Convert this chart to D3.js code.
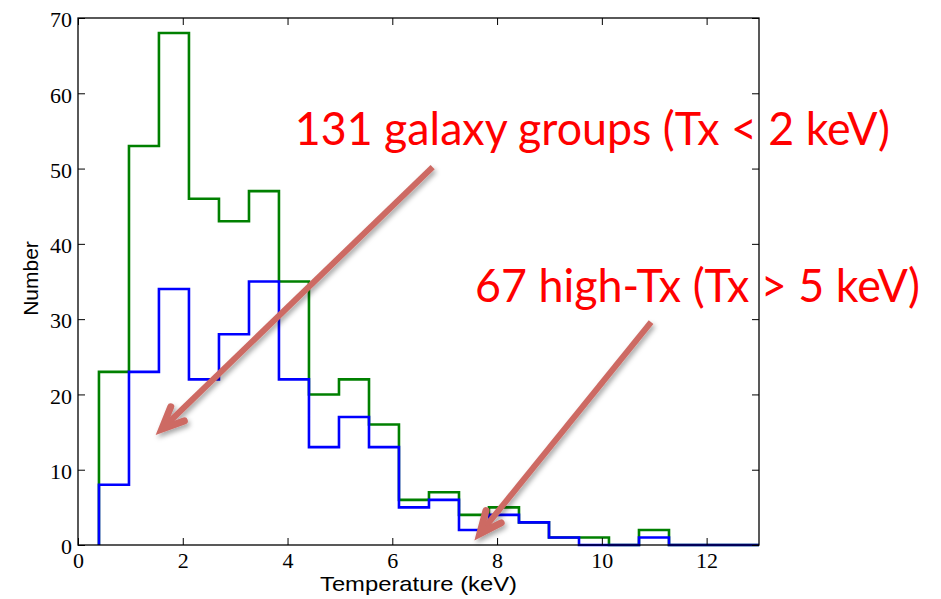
<!DOCTYPE html>
<html>
<head>
<meta charset="utf-8">
<script src="https://cdn.jsdelivr.net/npm/d3@7"></script>
<style>
  html, body { margin: 0; padding: 0; background: #fff; }
  svg { display: block; }
</style>
</head>
<body>
<div id="chart"></div>
<script>
// histogram bin edges (keV), 22 bins from 0.4 to 13.0
const binEdges = [0.4, 0.973, 1.545, 2.118, 2.691, 3.264, 3.836, 4.409, 4.982, 5.555, 6.127,
  6.7, 7.273, 7.845, 8.418, 8.991, 9.564, 10.136, 10.709, 11.282, 11.855, 12.427, 13.0];

// counts per bin
const allCounts = [23, 53, 68, 46, 43, 47, 35, 20, 22, 16, 6, 7, 4, 5, 3, 1, 1, 0, 2, 0, 0, 0];
const subCounts = [8, 23, 34, 22, 28, 35, 22, 13, 17, 13, 5, 6, 2, 4, 3, 1, 0, 0, 1, 0, 0, 0];

const xTicks = [0, 2, 4, 6, 8, 10, 12];
const yTicks = [0, 10, 20, 30, 40, 50, 60, 70];

// annotations in data units: text anchor, arrow tail, arrow tip
const notes = [
  { text: "131 galaxy groups (Tx < 2 keV)", x: 4.14, y: 53.1, width: 595, tail: [6.77, 50.2], tip: [1.60, 15.4] },
  { text: "67 high-Tx (Tx > 5 keV)", x: 7.58, y: 32.3, width: 445, tail: [10.94, 29.6], tip: [7.67, 1.5] },
];

const width = 941, height = 599;
const margin = { top: 18, right: 182, bottom: 54, left: 78 };
const serif = '"Liberation Serif", "DejaVu Serif", serif';
const sans = '"Liberation Sans", Arial, sans-serif';

const svg = d3.select("#chart").append("svg")
  .attr("width", width)
  .attr("height", height);

const x = d3.scaleLinear().domain([0, 13]).range([margin.left, width - margin.right]);
const y = d3.scaleLinear().domain([0, 70]).range([height - margin.bottom, margin.top]);

const defs = svg.append("defs");
const shadow = defs.append("filter").attr("id", "shadow")
  .attr("x", "-20%").attr("y", "-20%").attr("width", "140%").attr("height", "140%");
shadow.append("feDropShadow")
  .attr("dx", 2).attr("dy", 3).attr("stdDeviation", 2.5)
  .attr("flood-color", "#000").attr("flood-opacity", 0.35);

function stepPoints(counts) {
  const pts = [[binEdges[0], 0]];
  counts.forEach((c, i) => {
    pts.push([binEdges[i], c]);
    pts.push([binEdges[i + 1], c]);
  });
  pts.push([binEdges[binEdges.length - 1], 0]);
  return pts;
}

const line = d3.line().x((d) => x(d[0])).y((d) => y(d[1]));

svg.append("path")
  .attr("d", line(stepPoints(allCounts)))
  .attr("fill", "none")
  .attr("stroke", "#008000")
  .attr("stroke-width", 2.6);

svg.append("path")
  .attr("d", line(stepPoints(subCounts)))
  .attr("fill", "none")
  .attr("stroke", "#0000ff")
  .attr("stroke-width", 2.6);

// frame and inward ticks on all four sides
const x0 = margin.left, x1 = width - margin.right;
const y0 = height - margin.bottom, y1 = margin.top;
const tickLen = 7;

function styleLabels(g) {
  g.attr("font-family", serif).attr("font-size", 22);
  g.selectAll("text").attr("fill", "#000");
}

svg.append("g")
  .attr("transform", `translate(0,${y0})`)
  .call(d3.axisBottom(x).tickValues(xTicks).tickSize(-tickLen).tickPadding(7).tickFormat(d3.format("d")))
  .call((g) => g.select(".domain").remove())
  .call(styleLabels);

svg.append("g")
  .attr("transform", `translate(0,${y1})`)
  .call(d3.axisTop(x).tickValues(xTicks).tickSize(-tickLen).tickFormat(""))
  .call((g) => g.select(".domain").remove());

svg.append("g")
  .attr("transform", `translate(${x0},0)`)
  .call(d3.axisLeft(y).tickValues(yTicks).tickSize(-tickLen).tickPadding(6).tickFormat(d3.format("d")))
  .call((g) => g.select(".domain").remove())
  .call(styleLabels)
  .call((g) => g.selectAll("text").attr("dy", "0.4em"));

svg.append("g")
  .attr("transform", `translate(${x1},0)`)
  .call(d3.axisRight(y).tickValues(yTicks).tickSize(-tickLen).tickFormat(""))
  .call((g) => g.select(".domain").remove());

svg.selectAll(".tick line").attr("stroke", "#000").attr("stroke-width", 1);

svg.append("rect")
  .attr("x", x0).attr("y", y1)
  .attr("width", x1 - x0).attr("height", y0 - y1)
  .attr("fill", "none")
  .attr("stroke", "#000")
  .attr("stroke-width", 1.3);

svg.append("text")
  .attr("font-family", sans)
  .attr("font-size", 21)
  .attr("x", (x0 + x1) / 2)
  .attr("y", 591)
  .attr("text-anchor", "middle")
  .attr("textLength", 197)
  .attr("lengthAdjust", "spacingAndGlyphs")
  .text("Temperature (keV)");

svg.append("text")
  .attr("font-family", sans)
  .attr("font-size", 21)
  .attr("transform", `translate(38,${(y0 + y1) / 2 - 3}) rotate(-90)`)
  .attr("text-anchor", "middle")
  .text("Number");

// annotation arrows
const arrowColor = "#cd6a64";
notes.forEach((n) => {
  const tx = x(n.tail[0]), ty = y(n.tail[1]);
  const hx = x(n.tip[0]), hy = y(n.tip[1]);
  const ang = Math.atan2(ty - hy, tx - hx);
  const barb = 24, spread = 0.42;
  const b1 = [hx + barb * Math.cos(ang + spread), hy + barb * Math.sin(ang + spread)];
  const b2 = [hx + barb * Math.cos(ang - spread), hy + barb * Math.sin(ang - spread)];
  const g = svg.append("g").attr("filter", "url(#shadow)");
  g.append("path")
    .attr("d", `M${tx},${ty}L${hx + 3 * Math.cos(ang)},${hy + 3 * Math.sin(ang)}`)
    .attr("stroke", arrowColor)
    .attr("stroke-width", 6)
    .attr("fill", "none");
  g.append("path")
    .attr("d", `M${b1[0]},${b1[1]}L${hx},${hy}L${b2[0]},${b2[1]}`)
    .attr("stroke", arrowColor)
    .attr("stroke-width", 7)
    .attr("stroke-linejoin", "miter")
    .attr("stroke-linecap", "round")
    .attr("fill", "none");
});

svg.selectAll(".note")
  .data(notes)
  .join("text")
  .attr("class", "note")
  .attr("font-family", 'Lato, "Open Sans", sans-serif')
  .attr("font-size", 46)
  .attr("fill", "#ff0000")
  .attr("x", (d) => x(d.x))
  .attr("y", (d) => y(d.y))
  .attr("textLength", (d) => d.width)
  .attr("lengthAdjust", "spacingAndGlyphs")
  .text((d) => d.text);
</script>
</body>
</html>
